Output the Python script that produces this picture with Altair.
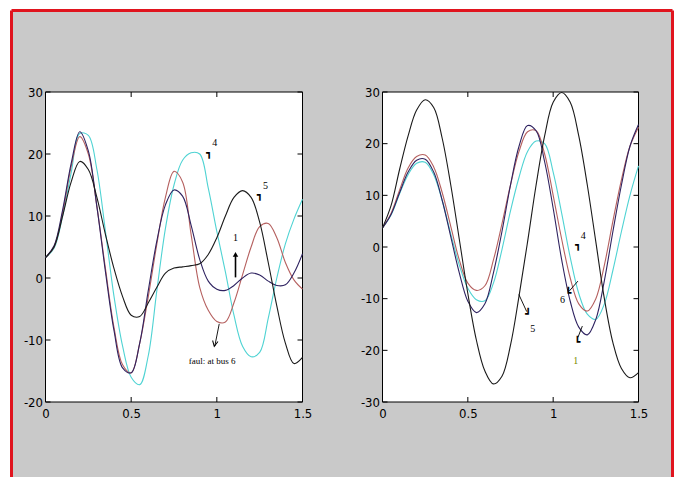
import altair as alt
import pandas as pd

# ---------------- data ----------------
t = [0.0, 0.05, 0.1, 0.15, 0.2, 0.25, 0.3, 0.35, 0.4, 0.45, 0.5, 0.55, 0.6, 0.65, 0.7,
     0.75, 0.8, 0.85, 0.9, 0.95, 1.0, 1.05, 1.1, 1.15, 1.2, 1.25, 1.3, 1.35, 1.4, 1.45, 1.5]

# left panel (fault at bus 6)
left_cyan = [3.3, 4.8, 10, 17, 23.3, 23, 17.5, 7.5, -3, -11, -16, -17.2, -12.5, -2, 8,
             15, 19, 20.2, 20, 14.5, 7.5, 1, -6, -11, -12.7, -12, -6.5, 0, 5.5, 9.5, 12.7]
left_brown = [3.3, 5, 10.5, 18, 22.8, 20, 11.5, 1.5, -8, -14, -15.3, -10.5, -3, 5.5, 13,
              17.2, 15.5, 7, -1.5, -5.2, -7, -7.1, -4, 0.5, 5, 8.3, 8.8, 6.5, 2.5, -0.3, -1.8]
left_navy = [3.3, 5.2, 11, 18.5, 23.6, 20.5, 11.5, 1, -8.5, -14.5, -15.3, -10.5, -2, 6, 11.8,
             14.2, 13.2, 8.5, 3, -0.5, -1.8, -2, -1.2, 0, 0.8, 0.5, -0.5, -1.2, -1.1, 0.8, 3.9]
left_black = [3.3, 5, 10, 15.5, 18.8, 17.5, 13, 7, 1.5, -3, -6, -6.2, -4, -1.5, 0.8,
              1.6, 1.8, 2, 2.3, 3.8, 6.5, 10, 13, 14.1, 13, 9, 2.5, -4.5, -10.5, -13.8, -12.8]

# right panel
right_cyan = [3.7, 6.2, 10.3, 14, 16.2, 16.4, 14, 9, 2.5, -3.5, -8, -10.2, -10.4, -7, -0.5,
              7, 13.5, 18.5, 20.5, 20, 14.5, 6.5, -2, -9, -13, -14, -11, -4.5, 3, 10, 15.7]
right_red = [3.7, 6.5, 11, 15.3, 17.5, 17.8, 15.5, 10.5, 4, -2.5, -7, -8.4, -7.5, -2.5, 4.5,
             12, 18.5, 22.3, 22.5, 18, 10, 1.5, -6, -11, -12.4, -10, -3.5, 5, 13, 19.5, 23.2]
right_navy = [3.7, 6.3, 10.5, 14.5, 16.8, 17, 14.5, 9, 2, -5, -10.5, -12.7, -11, -5, 3,
              12, 19.5, 23.5, 22.5, 16.5, 7.5, -2.5, -10.5, -15.5, -17, -14, -6.5, 3, 12, 19.5, 23.7]
right_black = [3.7, 8, 15, 21.5, 26.5, 28.5, 27, 21, 12, 1.5, -9, -18, -24, -26.5, -25,
               -19, -9.5, 1, 12, 21.5, 28, 29.9, 28, 21.5, 12, 1, -10, -18.5, -23.5, -25.3, -24.3]

x_ticks = [0, 0.5, 1, 1.5]
left_y_ticks = [-20, -10, 0, 10, 20, 30]
right_y_ticks = [-30, -20, -10, 0, 10, 20, 30]

series_names = ["cyan", "brown", "navy", "black"]
series_colors = ["#4fd3d3", "#b5605f", "#2e2260", "#1a1a1a"]

# annotations (data coordinates)
left_labels = pd.DataFrame({"x": [0.988, 1.284, 1.109], "y": [21.8, 14.8, 6.5], "text": ["4", "5", "1"]})
left_note = pd.DataFrame({"x": [0.973], "y": [-13.4], "text": ["faul: at bus 6"]})
left_hooks = pd.DataFrame({"x": [0.955, 1.25], "y": [20.2, 13.4], "text": ["┓", "┓"]})
left_segs = pd.DataFrame({"x": [1.109, 1.014], "y": [0.1, -7.4], "x2": [1.109, 0.988], "y2": [3.6, -11.0],
                          "w": [1.6, 0.9]})
left_up = pd.DataFrame({"x": [1.109], "y": [3.8]})
left_v = pd.DataFrame({"x": [0.988], "y": [-10.6]})

right_labels = pd.DataFrame({"x": [1.176, 1.054, 0.881], "y": [2.1, -10.3, -15.9], "text": ["4", "6", "5"]})
right_label1 = pd.DataFrame({"x": [1.132], "y": [-22.1], "text": ["1"]})
right_hooks = pd.DataFrame({"x": [1.145, 1.088, 0.852, 1.141], "y": [0.4, -8.9, -13.0, -18.3],
                            "text": ["┓", "┗", "┛", "┗"]})
right_segs = pd.DataFrame({"x": [1.145, 0.799, 1.171], "y": [-6.6, -9.2, -15.3],
                           "x2": [1.095, 0.845, 1.145], "y2": [-8.5, -12.5, -17.5]})

W_L, W_R, H = 257, 256, 310
GRAY = "#c9c9c9"
RED = "#e0141e"
LABEL_FONT = "'Liberation Sans Narrow', 'DejaVu Sans Condensed', 'Liberation Sans', sans-serif"


def long_df(names, cols):
    rows = []
    for n, c in zip(names, cols):
        for xv, yv in zip(t, c):
            rows.append({"x": xv, "y": yv, "s": n})
    return pd.DataFrame(rows)


def panel(df, ymin, ymax, yticks, w, extra_layers, decor=False):
    xs = alt.Scale(domain=[0, 1.5], nice=False, zero=False)
    ys = alt.Scale(domain=[ymin, ymax], nice=False, zero=False)
    xax = alt.Axis(values=x_ticks, labelExpr="'' + datum.value", title=None, orient="bottom",
                   ticks=False, tickSize=0, domain=False, grid=False, labelPadding=5, zindex=1,
                   labelFlush=False, labelOverlap=False)
    yax = alt.Axis(values=yticks, labelExpr="'' + datum.value", title=None, orient="left",
                   ticks=False, tickSize=0, domain=False, grid=False, labelPadding=3, zindex=1,
                   labelOverlap=False)

    def X(f="x:Q"):
        return alt.X(f, scale=xs, axis=xax)

    def Y(f="y:Q"):
        return alt.Y(f, scale=ys, axis=yax)

    layers = []
    if decor:
        one = pd.DataFrame({"a": [0]})
        layers.append(alt.Chart(one).mark_rect(color=GRAY).encode(
            x=alt.value(-34), x2=alt.value(627), y=alt.value(-81.5), y2=alt.value(386)))
        layers.append(alt.Chart(one).mark_rule(color=RED, strokeWidth=3).encode(
            x=alt.value(-34), x2=alt.value(627), y=alt.value(-81.5)))
        layers.append(alt.Chart(one).mark_rule(color=RED, strokeWidth=3).encode(
            x=alt.value(-34), y=alt.value(-81.5), y2=alt.value(386)))
        layers.append(alt.Chart(one).mark_rule(color=RED, strokeWidth=3).encode(
            x=alt.value(627), y=alt.value(-81.5), y2=alt.value(386)))
    frame_df = pd.DataFrame({"x": [0.0], "x2": [1.5], "y": [ymin], "y2": [ymax]})
    layers.append(alt.Chart(frame_df).mark_rect(fill="white", stroke="black", strokeWidth=1).encode(
        x=X(), x2="x2:Q", y=Y(), y2="y2:Q"))
    layers.append(alt.Chart(df).mark_line(strokeWidth=1.1, interpolate="catmull-rom").encode(
        x=X(), y=Y(),
        color=alt.Color("s:N", scale=alt.Scale(domain=series_names, range=series_colors), legend=None)))
    xt = pd.DataFrame({"x": x_ticks})
    yt = pd.DataFrame({"y": yticks})
    layers.append(alt.Chart(xt).mark_rule(color="black").encode(
        x=X(), y=alt.value(H), y2=alt.value(H - 5)))
    layers.append(alt.Chart(xt).mark_rule(color="black").encode(
        x=X(), y=alt.value(0), y2=alt.value(5)))
    layers.append(alt.Chart(yt).mark_rule(color="black").encode(
        y=Y(), x=alt.value(0), x2=alt.value(5)))
    layers.append(alt.Chart(yt).mark_rule(color="black").encode(
        y=Y(), x=alt.value(w - 5), x2=alt.value(w)))
    for make in extra_layers:
        layers.append(make(X, Y))
    return alt.layer(*layers).properties(width=w, height=H)


def text_layer(d, color="black", size=10, font="Liberation Serif", weight="normal"):
    def make(X, Y):
        return alt.Chart(d).mark_text(color=color, fontSize=size, font=font, fontWeight=weight,
                                      align="center", baseline="middle").encode(
            x=X(), y=Y(), text="text:N")
    return make


def seg_layer(d, width=None):
    def make(X, Y):
        enc = dict(x=X(), y=Y(), x2="x2:Q", y2="y2:Q")
        if width is None:
            enc["strokeWidth"] = alt.StrokeWidth("w:Q", scale=None)
            return alt.Chart(d).mark_rule(color="black").encode(**enc)
        return alt.Chart(d).mark_rule(color="black", strokeWidth=width).encode(**enc)
    return make


def head_layer(d, shape, filled, size, angle):
    def make(X, Y):
        return alt.Chart(d).mark_point(shape=shape, filled=filled, size=size, angle=angle,
                                       color="black", strokeWidth=1, opacity=1).encode(
            x=X(), y=Y())
    return make


left_df = long_df(series_names, [left_cyan, left_brown, left_navy, left_black])
right_df = long_df(series_names, [right_cyan, right_red, right_navy, right_black])

left = panel(left_df, -20, 30, left_y_ticks, W_L, [
    seg_layer(left_segs),
    head_layer(left_up, "triangle-up", True, 30, 0),
    head_layer(left_v, "M -1 -1 L 0 1 L 1 -1", False, 30, 11),
    text_layer(left_hooks, size=10, font="DejaVu Sans", weight="bold"),
    text_layer(left_labels, size=10),
    text_layer(left_note, size=9),
], decor=True)

right = panel(right_df, -30, 30, right_y_ticks, W_R, [
    seg_layer(right_segs, width=0.9),
    text_layer(right_hooks, size=10, font="DejaVu Sans", weight="bold"),
    text_layer(right_labels, size=10),
    text_layer(right_label1, color="#7a8a00", size=10),
])

chart = alt.hconcat(left, right, spacing=80, bounds="flush").properties(
    padding={"left": 1.5, "top": 0, "right": 0, "bottom": 0}
).configure(background="white").configure_view(stroke="transparent").configure_axis(
    labelFont=LABEL_FONT, labelFontSize=13, labelColor="black"
)

chart.save("out.html", embed_options={"renderer": "svg", "actions": False})
